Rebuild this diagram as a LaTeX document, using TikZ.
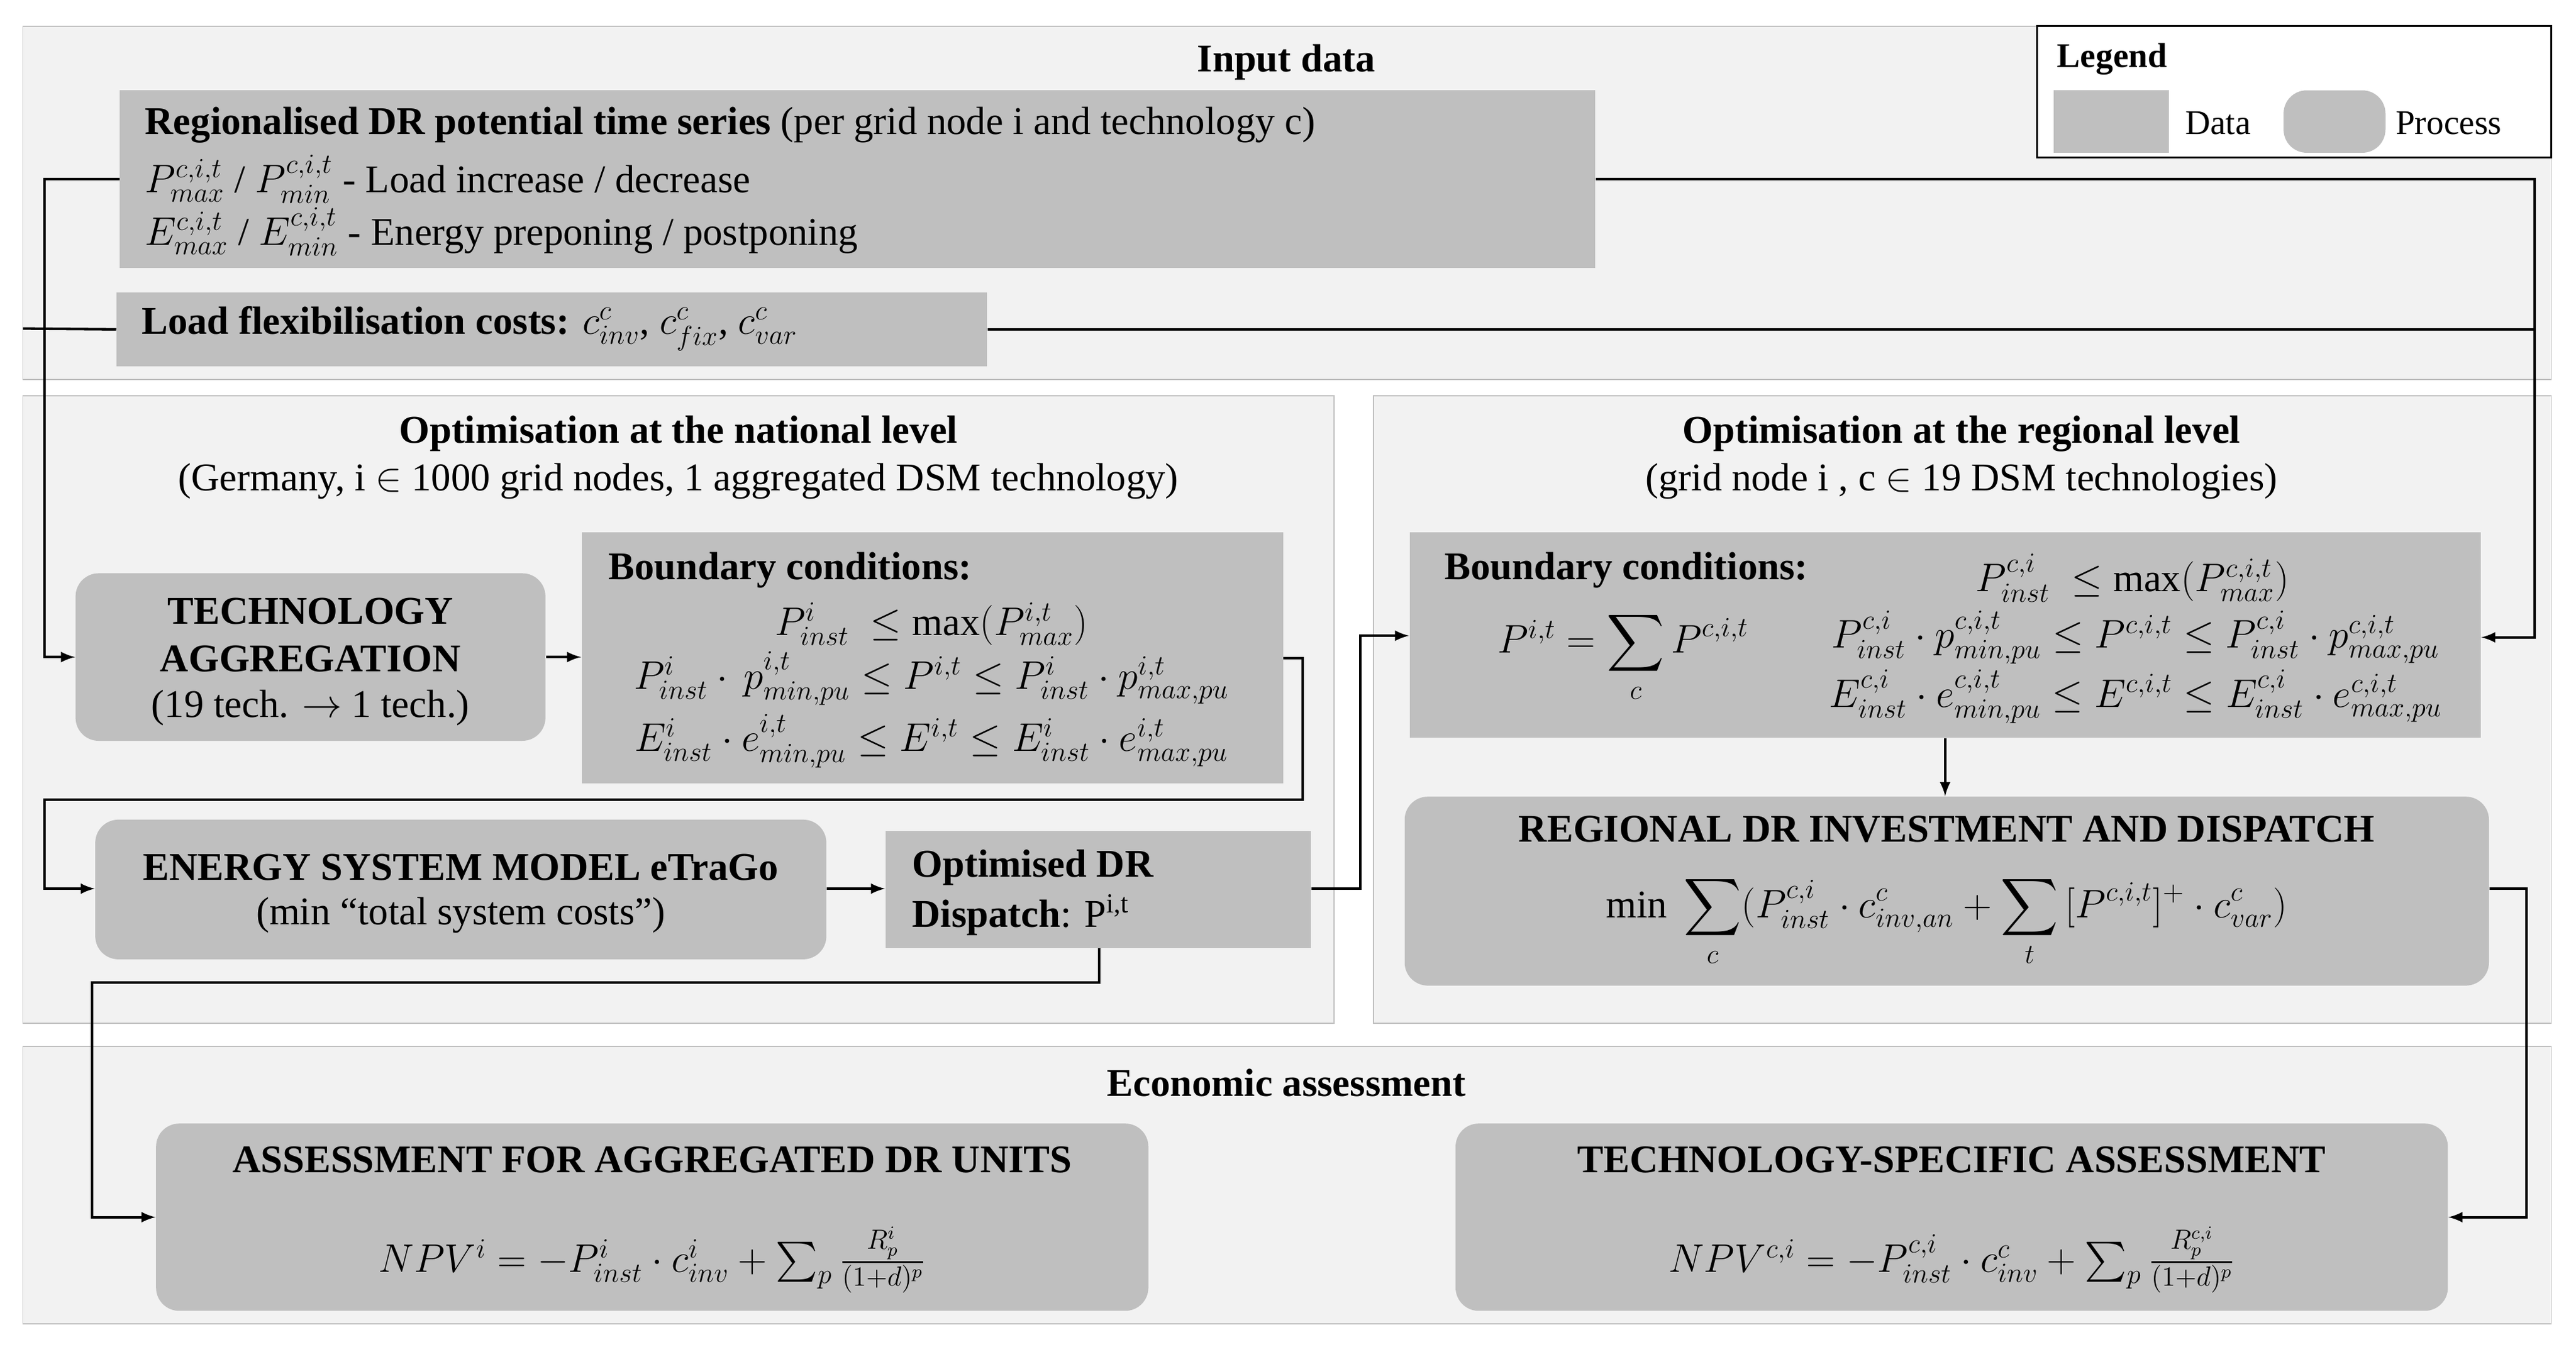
\documentclass[tikz,border=0pt]{standalone}
\usepackage{amsmath}
\usepackage{fontspec}
\setmainfont{Liberation Serif}
\usepackage{tikz}
\usetikzlibrary{calc}
\definecolor{datagray}{HTML}{BFBFBF}
\definecolor{panelgray}{HTML}{F2F2F2}
\definecolor{linegray}{HTML}{BFBFBF}
\begin{document}
\begin{tikzpicture}[x=0.025cm,y=-0.025cm,
  every node/.style={font=\fontsize{17}{20}\selectfont},
  bold/.style={font=\fontsize{17}{20}\selectfont\bfseries},
  panel/.style={fill=panelgray,draw=linegray,inner sep=0pt},
  data/.style={fill=datagray,inner sep=0pt},
  process/.style={data,rounded corners=10pt},
  txt/.style={inner sep=0pt,anchor=west},
  flow/.style={-latex,line width=1.1pt}]
\useasboundingbox (0,0) rectangle (1568,820);
% panels
\node [panel,minimum width=1539*0.025cm,minimum height=215*0.025cm] (inpanel) at (783.5,123.5) {};
\node [panel,minimum width=798*0.025cm,minimum height=382*0.025cm] (natpanel) at (413,432) {};
\node [panel,minimum width=717*0.025cm,minimum height=382*0.025cm] (regpanel) at (1194.5,432) {};
\node [panel,minimum width=1539*0.025cm,minimum height=169*0.025cm] (ecopanel) at (783.5,721.5) {};
\node [bold] (intitle) at (783,38) {Input data};
\node [bold] (nattitle) at (413,264) {Optimisation at the national level};
\node (natsub) at (413,293) {(Germany, i $\in$ 1000 grid nodes, 1 aggregated DSM technology)};
\node [bold] (regtitle) at (1194,264) {Optimisation at the regional level};
\node (regsub) at (1194,293) {(grid node i , c $\in$ 19 DSM technologies)};
\node [bold] (ecotitle) at (783,659) {Economic assessment};
% legend
\node [fill=white,draw=black,line width=0.8pt,minimum width=313*0.025cm,minimum height=80*0.025cm] (legend) at (1396.5,56) {};
\node [txt,font=\fontsize{15}{18}\selectfont\bfseries] (legtitle) at (1252,36) {Legend};
\node [data,minimum width=70*0.025cm,minimum height=38*0.025cm] (legdata) at (1285,74) {};
\node [txt,font=\fontsize{15}{18}\selectfont] (legdatatxt) at (1330,75) {Data};
\node [process,minimum width=62*0.025cm,minimum height=38*0.025cm] (legproc) at (1421,74) {};
\node [txt,font=\fontsize{15}{18}\selectfont] (legproctxt) at (1458,75) {Process};
% input data
\node [data,minimum width=898*0.025cm,minimum height=108*0.025cm] (potential) at (522,109) {};
\node [txt] (pot1) at (88,76) {\textbf{Regionalised DR potential time series} (per grid node i and technology c)};
\node [txt] (pot2) at (88,109) {$P^{c,i,t}_{max}$ / $P^{c,i,t}_{min}$ - Load increase / decrease};
\node [txt] (pot3) at (88,141) {$E^{c,i,t}_{max}$ / $E^{c,i,t}_{min}$ - Energy preponing / postponing};
\node [data,minimum width=530*0.025cm,minimum height=45*0.025cm] (costs) at (336,200.5) {};
\node [txt] (coststxt) at (86,200) {\textbf{Load flexibilisation costs:} $c^c_{inv}$, $c^c_{fix}$, $c^c_{var}$};
% national level
\node [process,minimum width=286*0.025cm,minimum height=102*0.025cm] (techagg) at (189,400) {};
\node [bold] at (189,372) {TECHNOLOGY};
\node [bold] at (189,401) {AGGREGATION};
\node at (189,431) {(19 tech. $\rightarrow$ 1 tech.)};
\node [data,minimum width=427*0.025cm,minimum height=153*0.025cm] (natbc) at (567.5,400.5) {};
\node [txt,bold] (natbctitle) at (370,347) {Boundary conditions:};
\node (natbc1) at (567,380) {$P^{i}_{inst}\ \le \max(P^{i,t}_{max})$};
\node (natbc2) at (567,413) {$P^{i}_{inst}\cdot\, p^{i,t}_{min,pu} \le P^{i,t} \le P^{i}_{inst}\cdot p^{i,t}_{max,pu}$};
\node (natbc3) at (567,451) {$E^{i}_{inst}\cdot e^{i,t}_{min,pu} \le E^{i,t} \le E^{i}_{inst}\cdot e^{i,t}_{max,pu}$};
\node [process,minimum width=445*0.025cm,minimum height=85*0.025cm] (esm) at (280.5,541.5) {};
\node [bold] at (280.5,528) {ENERGY SYSTEM MODEL eTraGo};
\node at (280.5,557) {(min “total system costs”)};
\node [data,minimum width=259*0.025cm,minimum height=71*0.025cm] (optdr) at (668.5,541.5) {};
\node [txt,bold] at (555,528) {Optimised DR};
\node [txt] at (555,557) {\textbf{Dispatch}: P\textsuperscript{i,t}};
% regional level
\node [data,minimum width=652*0.025cm,minimum height=125*0.025cm] (regbc) at (1184,386.5) {};
\node [txt,bold] (regbctitle) at (879,347) {Boundary conditions:};
\node (regbc0) at (988,400) {$P^{i,t} = \displaystyle\sum_{c} P^{c,i,t}$};
\node (regbc1) at (1298,352) {$P^{c,i}_{inst}\ \le \max(P^{c,i,t}_{max})$};
\node (regbc2) at (1300,388) {$P^{c,i}_{inst}\cdot p^{c,i,t}_{min,pu} \le P^{c,i,t} \le P^{c,i}_{inst}\cdot p^{c,i,t}_{max,pu}$};
\node (regbc3) at (1300,424) {$E^{c,i}_{inst}\cdot e^{c,i,t}_{min,pu} \le E^{c,i,t} \le E^{c,i}_{inst}\cdot e^{c,i,t}_{max,pu}$};
\node [process,minimum width=660*0.025cm,minimum height=115*0.025cm] (regdr) at (1185,542.5) {};
\node [bold] at (1185,505) {REGIONAL DR INVESTMENT AND DISPATCH};
\node at (1185,561) {$\min\ \displaystyle\sum_{c}(P^{c,i}_{inst}\cdot c^{c}_{inv,an}+\sum_{t}\,[P^{c,i,t}]^{+}\cdot c^{c}_{var})$};
% economic assessment
\node [process,minimum width=604*0.025cm,minimum height=114*0.025cm] (assagg) at (397,741) {};
\node [bold] at (397,706) {ASSESSMENT FOR AGGREGATED DR UNITS};
\node at (397,767) {$NPV^{i}=-P^{i}_{inst}\cdot c^{i}_{inv}+\sum_{p}\frac{R^{i}_{p}}{(1+d)^{p}}$};
\node [process,minimum width=604*0.025cm,minimum height=114*0.025cm] (asstech) at (1188,741) {};
\node [bold] at (1188,706) {TECHNOLOGY-SPECIFIC ASSESSMENT};
\node at (1188,767) {$NPV^{c,i}=-P^{c,i}_{inst}\cdot c^{c}_{inv}+\sum_{p}\frac{R^{c,i}_{p}}{(1+d)^{p}}$};
% connectors
\coordinate (costend) at (14,200);
\draw [flow] (potential.west |- 0,109) -| (27,400) -- (techagg.west);
\draw [line width=1.1pt] (costs.west) -- (costend);
\draw [flow] (potential.east |- 0,109) -| (1543,388) -- (regbc.east |- 0,388);
\draw [line width=1.1pt] (costs.east) -| (1543,300);
\draw [flow] (techagg.east) -- (natbc.west |- techagg.east);
\draw [flow] (natbc.east) -| (793,487) -| (27,541) -- (esm.west |- 0,541);
\draw [flow] (esm.east |- 0,541) -- (optdr.west |- 0,541);
\draw [flow] (optdr.east |- 0,541) -| (828,387) -- (regbc.west |- 0,387);
\draw [flow] (669,577) |- (56,598) |- (assagg.west);
\draw [flow] (regbc.south) -- (regdr.north -| regbc.south);
\draw [flow] (regdr.east |- 0,541) -| (1538,741) -- (asstech.east);
\end{tikzpicture}
\end{document}
